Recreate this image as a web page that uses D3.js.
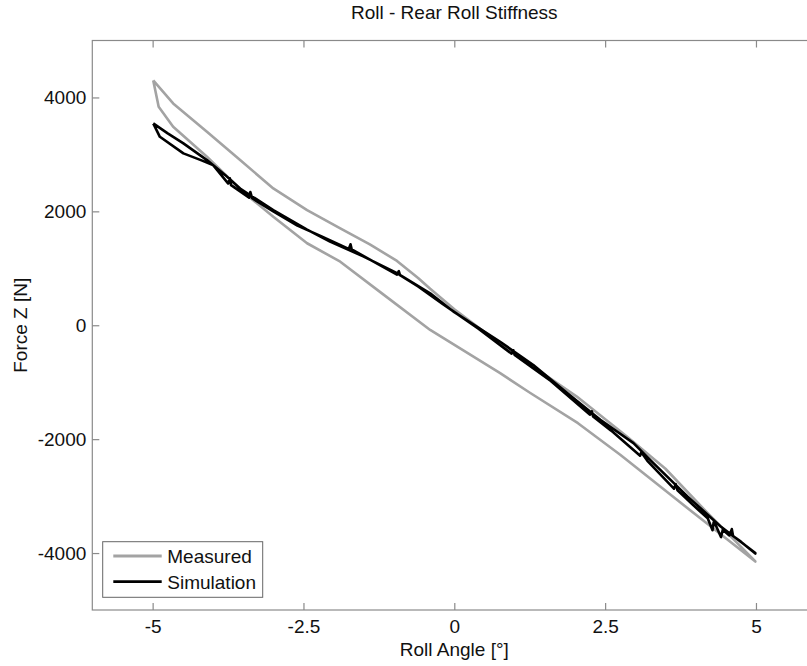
<!DOCTYPE html>
<html>
<head>
<meta charset="utf-8">
<script src="https://cdn.jsdelivr.net/npm/d3@7"></script>
<style>
  body { margin: 0; background: #fff; }
  svg { display: block; font-family: "Liberation Sans", Arial, sans-serif; }
</style>
</head>
<body>
<div id="chart"></div>
<script>
// roll angle [deg] / force z [N]
var xTicks = [-5, -2.5, 0, 2.5, 5];
var yTicks = [-4000, -2000, 0, 2000, 4000];

// measured loop: upper branch (left -> right), then lower branch (right -> left)
var measuredUpper = [[-4.99, 4300], [-4.66, 3895], [-4.10, 3396], [-3.55, 2900], [-3.0, 2403],
  [-2.44, 2023], [-1.89, 1702], [-1.4, 1420], [-0.95, 1130], [-0.6, 830], [-0.4, 640],
  [0.0, 280], [0.6, -200], [1.31, -730], [2.03, -1253], [2.86, -1954], [3.5, -2520],
  [4.2, -3300], [4.99, -4147]];
var measuredLower = [[4.99, -4150], [3.69, -3065], [2.75, -2275], [2.05, -1720], [1.26, -1190],
  [0.76, -842], [-0.40, -82], [-1.2, 560], [-1.89, 1116], [-2.44, 1440], [-3.0, 1905],
  [-3.5, 2340], [-4.1, 2958], [-4.66, 3484], [-4.9, 3835], [-4.99, 4300]];

// simulation: outgoing branch, then return branch with the small spikes seen in the trace
var simOut = [[-4.99, 3544], [-4.75, 3370], [-4.49, 3193], [-4.1, 2900], [-3.8, 2640],
  [-3.55, 2400], [-3.0, 2020], [-2.44, 1680], [-2.06, 1470], [-1.51, 1210], [-0.95, 915],
  [-0.40, 560], [0.0, 230], [0.16, 120], [0.76, -290], [1.31, -700], [1.87, -1190],
  [2.42, -1660], [2.97, -2070], [3.30, -2420], [3.86, -3000], [4.41, -3530], [4.99, -4000]];
var simBack = [[4.99, -4010], [4.75, -3800], [4.62, -3700], [4.6, -3580], [4.56, -3690],
  [4.45, -3590], [4.42, -3720], [4.35, -3550], [4.3, -3450], [4.28, -3600], [4.2, -3390],
  [3.95, -3150], [3.7, -2900], [3.67, -2790], [3.64, -2870], [3.2, -2380], [3.1, -2230],
  [3.08, -2290], [2.6, -1850], [2.3, -1600], [2.28, -1510], [2.25, -1570], [1.6, -980],
  [1.0, -520], [0.98, -440], [0.95, -500], [0.4, -60], [-0.2, 380], [-0.6, 680],
  [-0.9, 880], [-0.92, 950], [-0.95, 890], [-1.7, 1330], [-1.72, 1420], [-1.75, 1340],
  [-2.2, 1560], [-2.6, 1750], [-3.0, 2000], [-3.35, 2230], [-3.38, 2340], [-3.4, 2240],
  [-3.7, 2460], [-3.72, 2580], [-3.75, 2490], [-4.0, 2813], [-4.2, 2900], [-4.49, 3018],
  [-4.88, 3309], [-4.99, 3544]];

var width = 807, height = 666;
var margin = {top: 40.5, left: 92.3};
var plotW = 724, plotH = 569.5;
var fontSize = "19px";

var svg = d3.select("#chart").append("svg")
  .attr("width", width)
  .attr("height", height);

var x = d3.scaleLinear().domain([-6, 6]).range([margin.left, margin.left + plotW]);
var y = d3.scaleLinear().domain([-5000, 5000]).range([margin.top + plotH, margin.top]);

var axisColor = "#8a8a8a";
var textColor = "#111";

// plot box
svg.append("rect")
  .attr("x", x(-6)).attr("y", y(5000))
  .attr("width", plotW).attr("height", plotH)
  .attr("fill", "none").attr("stroke", axisColor).attr("stroke-width", 1.2);

// inward ticks, bottom / top / left
function styleAxis(g) {
  g.select(".domain").remove();
  g.selectAll(".tick line").attr("stroke", axisColor).attr("stroke-width", 1.2);
  g.selectAll(".tick text").attr("fill", textColor).style("font-size", fontSize);
}
svg.append("g")
  .attr("transform", "translate(0," + y(-5000) + ")")
  .call(d3.axisBottom(x).tickValues(xTicks).tickSizeInner(-7).tickPadding(10)
    .tickFormat(function(d) { return d; }))
  .call(styleAxis);
svg.append("g")
  .attr("transform", "translate(0," + y(5000) + ")")
  .call(d3.axisTop(x).tickValues(xTicks).tickSizeInner(-7).tickFormat(""))
  .call(styleAxis);
svg.append("g")
  .attr("transform", "translate(" + x(-6) + ",0)")
  .call(d3.axisLeft(y).tickValues(yTicks).tickSizeInner(-7).tickPadding(6)
    .tickFormat(function(d) { return d; }))
  .call(styleAxis);

// clip to plot box
svg.append("clipPath").attr("id", "clip")
  .append("rect").attr("x", x(-6)).attr("y", y(5000)).attr("width", plotW).attr("height", plotH);

var line = d3.line().x(function(d) { return x(d[0]); }).y(function(d) { return y(d[1]); });

var plot = svg.append("g").attr("clip-path", "url(#clip)");
plot.append("path")
  .datum(measuredUpper.concat(measuredLower))
  .attr("d", line)
  .attr("fill", "none").attr("stroke", "#a3a3a3").attr("stroke-width", 2.6)
  .attr("stroke-linejoin", "round");
plot.append("path")
  .datum(simOut.concat(simBack))
  .attr("d", line)
  .attr("fill", "none").attr("stroke", "#000").attr("stroke-width", 2.6)
  .attr("stroke-linejoin", "round");

// title and axis labels
svg.append("text")
  .attr("x", x(0)).attr("y", 19)
  .attr("text-anchor", "middle").attr("fill", textColor)
  .style("font-size", fontSize)
  .text("Roll - Rear Roll Stiffness");
svg.append("text")
  .attr("x", x(0)).attr("y", 656)
  .attr("text-anchor", "middle").attr("fill", textColor)
  .style("font-size", fontSize)
  .text("Roll Angle [°]");
svg.append("text")
  .attr("transform", "translate(27," + y(0) + ") rotate(-90)")
  .attr("text-anchor", "middle").attr("fill", textColor)
  .style("font-size", fontSize)
  .text("Force Z [N]");

// legend
var legend = svg.append("g");
legend.append("rect")
  .attr("x", 102.7).attr("y", 541.7).attr("width", 160).attr("height", 55.6)
  .attr("fill", "#fff").attr("stroke", "#666").attr("stroke-width", 1);
var legendItems = [{name: "Measured", color: "#a3a3a3"}, {name: "Simulation", color: "#000"}];
legendItems.forEach(function(item, i) {
  var ly = 556 + i * 25.7;
  legend.append("line")
    .attr("x1", 113.3).attr("x2", 161.7).attr("y1", ly).attr("y2", ly)
    .attr("stroke", item.color).attr("stroke-width", 2.8);
  legend.append("text")
    .attr("x", 167.3).attr("y", ly + 7)
    .attr("fill", textColor).style("font-size", fontSize)
    .text(item.name);
});
</script>
</body>
</html>
